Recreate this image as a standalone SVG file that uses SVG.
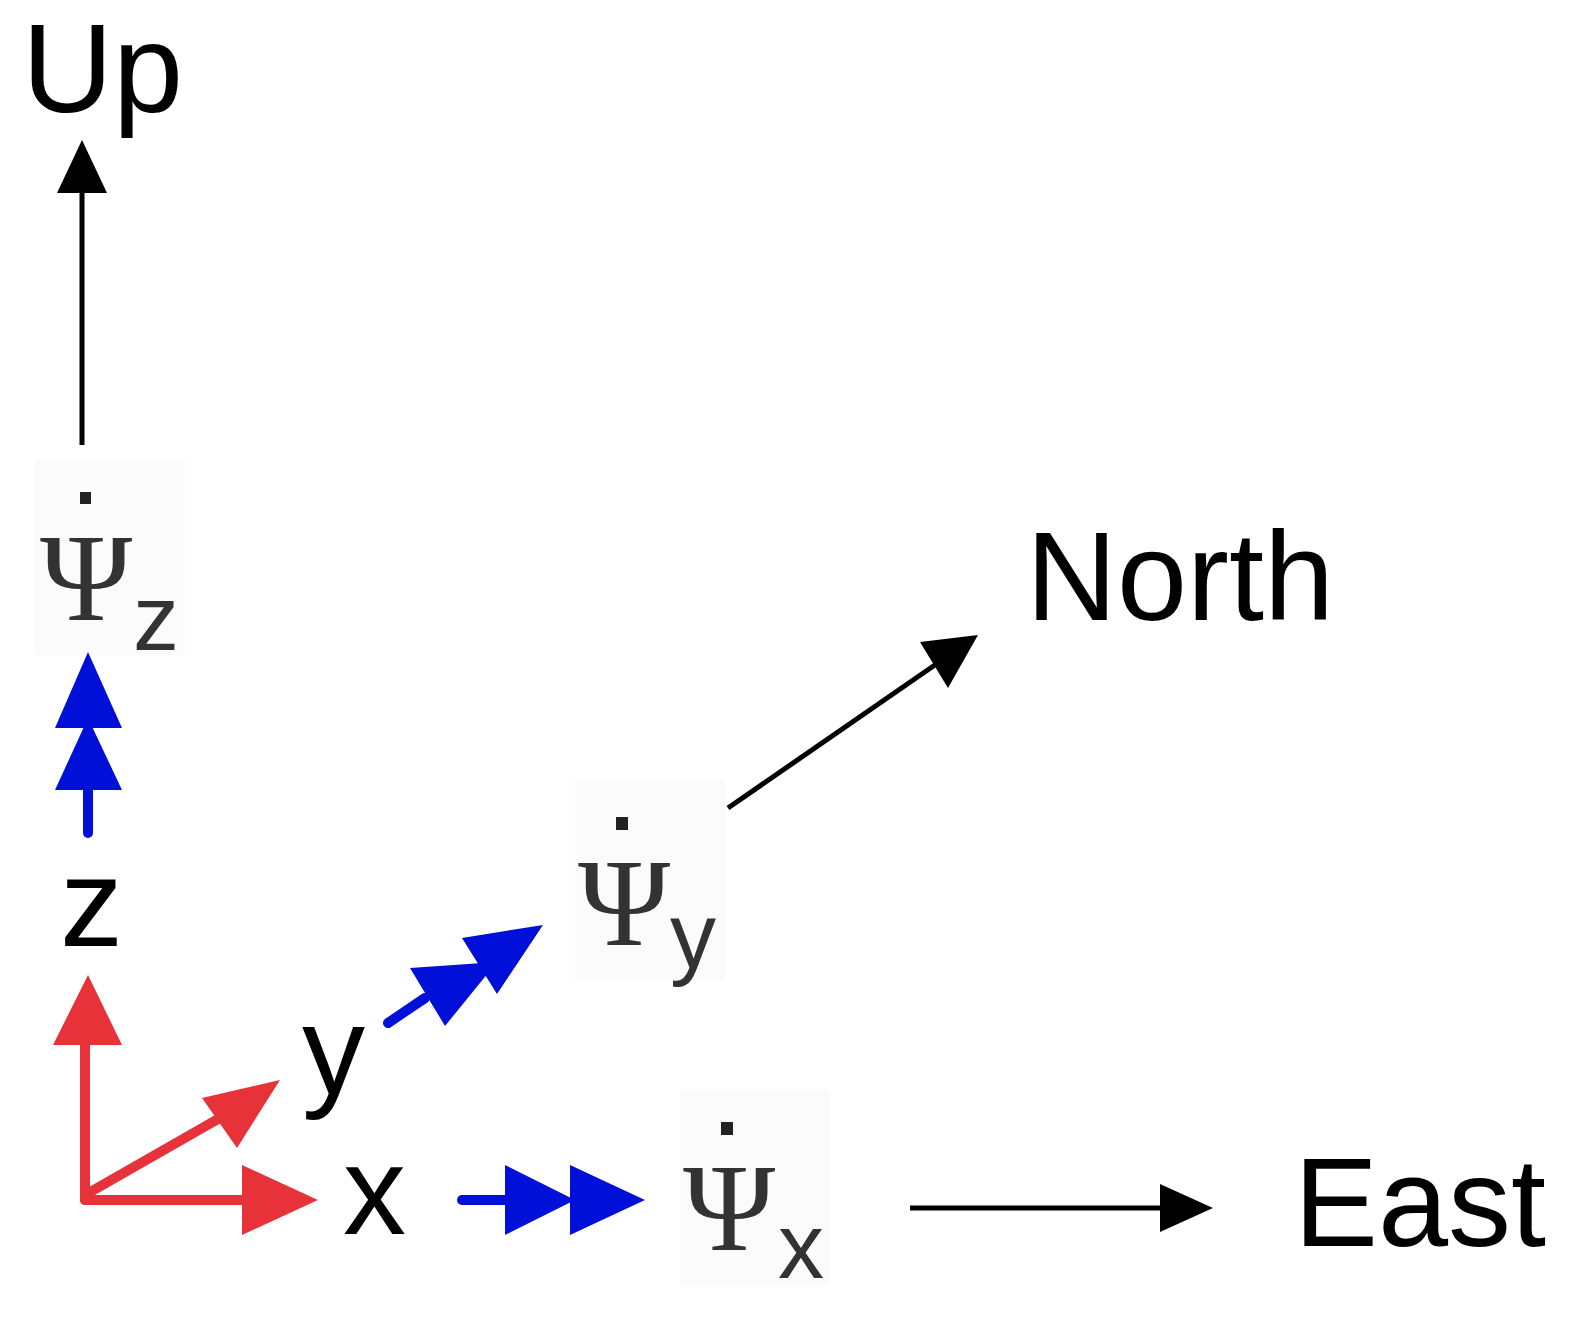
<svg xmlns="http://www.w3.org/2000/svg" width="1590" height="1324" viewBox="0 0 1590 1324">
<style>
.lbl{font-family:"Liberation Sans",Arial,sans-serif;font-size:126px;fill:#000}
.psi{font-family:"Liberation Serif","Times New Roman",serif;font-size:125px;fill:#333}
.sub{font-family:"Liberation Sans",Arial,sans-serif;font-size:92px;fill:#333}
.k{stroke:#000;stroke-width:5;fill:none}
.b{stroke:#0010d8;stroke-width:10;stroke-linecap:round;fill:none}
.r{stroke:#e8323a;stroke-width:10;stroke-linecap:round;fill:none}
</style>
<rect width="1590" height="1324" fill="#fff"/>
<g id="bg-boxes" fill="#fbfbfb">
<rect x="35" y="460" width="150" height="195"/>
<rect x="575" y="780" width="150" height="200"/>
<rect x="680" y="1090" width="150" height="195"/>
</g>
<g id="up"><text class="lbl" x="22" y="112" font-size="112">Up</text></g>
<g id="north"><text class="lbl" x="1026" y="620">North</text></g>
<g id="east"><text class="lbl" x="1294" y="1246">East</text></g>
<g id="zlab"><text class="lbl" x="60" y="946">z</text></g>
<g id="ylab"><text class="lbl" x="302" y="1094">y</text></g>
<g id="xlab"><text class="lbl" x="343" y="1234">x</text></g>
<g id="psiz"><rect x="80" y="492" width="11" height="12" fill="#222"/><text class="psi" x="40" y="620">Ψ</text><text class="sub" x="133" y="650">z</text></g>
<g id="psiy"><rect x="616" y="817" width="12" height="13" fill="#222"/><text class="psi" x="578" y="945">Ψ</text><text class="sub" x="670" y="968">y</text></g>
<g id="psix"><rect x="721" y="1122" width="12" height="13" fill="#222"/><text class="psi" x="683" y="1250">Ψ</text><text class="sub" x="778" y="1278">x</text></g>
<g id="connectors">
<line class="k" x1="82" y1="445" x2="82" y2="185"/>
<polygon points="82,140 57,193 107,193"/>
<line class="k" x1="728" y1="808" x2="945" y2="658"/>
<polygon points="978,635 920,642 948,688"/>
<line class="k" x1="910" y1="1208" x2="1170" y2="1208"/>
<polygon points="1213,1208 1160,1184 1160,1232"/>
<line class="b" x1="88" y1="833" x2="88" y2="785"/>
<polygon fill="#0010d8" points="88,718 55,790 122,790"/>
<polygon fill="#0010d8" points="88,652 55,728 122,728"/>
<line class="b" x1="462" y1="1200" x2="510" y2="1200"/>
<polygon fill="#0010d8" points="575,1200 505,1165 505,1235"/>
<polygon fill="#0010d8" points="645,1200 570,1165 570,1235"/>
<line class="b" x1="388" y1="1023" x2="425" y2="998"/>
<polygon fill="#0010d8" points="497,962 410,968 445,1026"/>
<polygon fill="#0010d8" points="543,925 462,938 497,994"/>
<line class="r" x1="85" y1="1200" x2="85" y2="1040"/>
<polygon fill="#e8323a" points="88,975 53,1045 122,1045"/>
<line class="r" x1="85" y1="1200" x2="250" y2="1200"/>
<polygon fill="#e8323a" points="318,1200 242,1165 242,1235"/>
<line class="r" x1="85" y1="1195" x2="225" y2="1115"/>
<polygon fill="#e8323a" points="280,1080 202,1098 237,1148"/>
</g>
</svg>
